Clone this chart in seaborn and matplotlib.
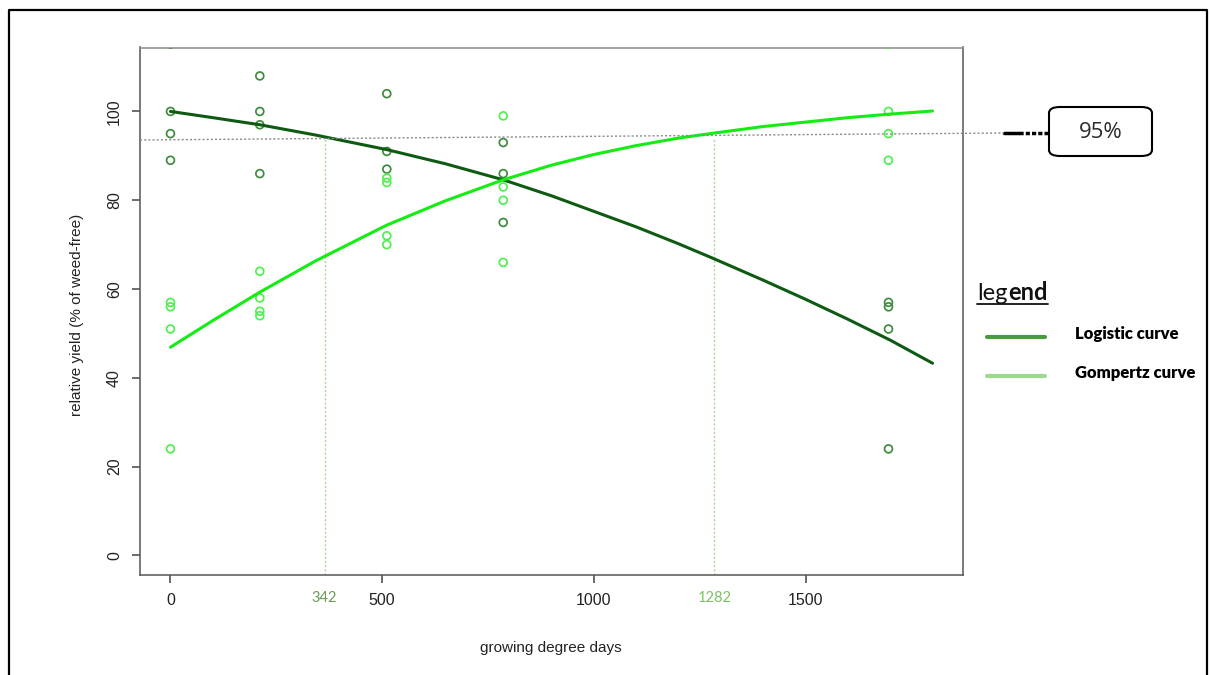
import matplotlib
matplotlib.use("Agg")
import matplotlib.pyplot as plt
import seaborn as sns
import pandas as pd
from matplotlib.lines import Line2D
from matplotlib.patches import FancyBboxPatch

# ---------------- data ----------------
logistic_obs_x = [0, 0, 0, 0, 211, 211, 211, 211, 511, 511, 511, 786, 786, 786, 1696, 1696, 1696, 1696]
logistic_obs_y = [100, 95, 89, 115.2, 108, 100, 97, 86, 104, 91, 87, 93, 86, 75, 57, 56, 51, 24]
gompertz_obs_x = [0, 0, 0, 0, 211, 211, 211, 211, 511, 511, 511, 511, 786, 786, 786, 786, 1696, 1696, 1696, 1696]
gompertz_obs_y = [57, 56, 51, 24, 64, 58, 55, 54, 85, 84, 72, 70, 99, 83, 80, 66, 100, 95, 89, 115.2]

curve_x = [0, 100, 211, 342, 511, 650, 786, 900, 1000, 1100, 1200, 1282, 1400, 1500, 1600, 1700, 1800]
logistic_fit = [100, 98.6, 97.0, 94.7, 91.4, 88.2, 84.6, 81.0, 77.5, 74.0, 70.2, 66.9, 62.0, 57.7, 53.2, 48.5, 43.3]
gompertz_fit = [46.9, 52.9, 59.3, 66.3, 74.4, 79.9, 84.6, 87.9, 90.3, 92.3, 94.0, 95.1, 96.6, 97.6, 98.6, 99.4, 100.1]

x_ticks = [0, 500, 1000, 1500]
y_ticks = [0, 20, 40, 60, 80, 100]
cutoff_x = [364, 1285]
cutoff_top = [94.4, 94.1]
cutoff_labels = ["342", "1282"]
cutoff_colors = ["#6b9a55", "#7cc064"]
legend_labels = ["Logistic curve", "Gompertz curve"]
threshold_label = "95%"

# ---------------- styling ----------------
sns.set_theme(style="white")
plt.rcParams["font.family"] = ["Liberation Sans", "DejaVu Sans"]

W, H = 1211, 675
fig = plt.figure(figsize=(W / 100, H / 100), dpi=100)

def fx(px):
    return px / W

def fy(py):
    return 1 - py / H

ax = fig.add_axes([fx(140), fy(575), fx(963) - fx(140), fy(47.5) - fy(575)])

obs_log = pd.DataFrame({"x": logistic_obs_x, "y": logistic_obs_y})
obs_gom = pd.DataFrame({"x": gompertz_obs_x, "y": gompertz_obs_y})
fits = pd.DataFrame({"x": curve_x, "logistic": logistic_fit, "gompertz": gompertz_fit})

dark_pt = "#3e8c3e"
light_pt = "#4ff04f"
dark_line = "#0f5a12"
light_line = "#14ec14"

# vertical cut-off lines
for cx, ct in zip(cutoff_x, cutoff_top):
    ax.plot([cx, cx], [-4.4, ct], color="#a9d89c", lw=1.0, ls=(0, (1.5, 1.5)), zorder=1)

sns.scatterplot(data=obs_log, x="x", y="y", ax=ax, s=32, color=dark_pt,
                facecolor="none", edgecolor=dark_pt, linewidth=1.25, zorder=3)
sns.scatterplot(data=obs_gom, x="x", y="y", ax=ax, s=32, color=light_pt,
                facecolor="none", edgecolor=light_pt, linewidth=1.25, zorder=3)
sns.lineplot(data=fits, x="x", y="logistic", ax=ax, color=dark_line, lw=2.2,
             sort=False, estimator=None, zorder=4)
sns.lineplot(data=fits, x="x", y="gompertz", ax=ax, color=light_line, lw=2.2,
             sort=False, estimator=None, zorder=4)

ax.set_xlim(-72, 1872)
ax.set_ylim(-4.4, 114.4)
ax.set_xticks(x_ticks)
ax.set_yticks(y_ticks)
ax.set_xticklabels([str(v) for v in x_ticks])
ax.set_yticklabels([str(v) for v in y_ticks], rotation=90, va="center")
ax.set_xlabel("")
ax.set_ylabel("")
ax.tick_params(axis="both", direction="out", length=6, width=1.1, color="#444444",
               labelsize=11.5, labelcolor="#222222", pad=7)
ax.tick_params(axis="x", bottom=True)
ax.tick_params(axis="y", left=True)
for side, sp in ax.spines.items():
    sp.set_visible(True)
    sp.set_linewidth(1.1)
    sp.set_color("#555555")
ax.spines["top"].set_color("#8c8c8c")
ax.grid(False)

# cut-off labels under axis
for cx, lab, col in zip(cutoff_x, cutoff_labels, cutoff_colors):
    ax.text(cx, -0.03, lab, transform=ax.get_xaxis_transform(), ha="center", va="top",
            fontsize=10.5, color=col, family=["Lato", "DejaVu Sans"])

# axis titles
fig.text(fx(551), fy(648), "growing degree days", ha="center", va="center",
         fontsize=11, color="#222222")
fig.text(fx(77), fy(315), "relative yield (% of weed-free)", ha="center", va="center",
         rotation=90, fontsize=11, color="#222222")

# horizontal 95 % threshold line (drawn across the figure)
fig.add_artist(Line2D([fx(140), fx(1004)], [fy(140), fy(133)], color="#8a8a8a",
                      lw=1.0, ls=(0, (1.5, 1.5)), zorder=5))
fig.add_artist(Line2D([fx(1004), fx(1019)], [fy(133), fy(133)], color="black", lw=2.5))
fig.add_artist(Line2D([fx(1019), fx(1048)], [fy(133), fy(133)], color="black", lw=2.5,
                      ls=(0, (1.2, 0.6))))

# 95 % box
box = FancyBboxPatch((fx(1049), fy(156)), fx(1152) - fx(1049), fy(107) - fy(156),
                     boxstyle="round,pad=0,rounding_size=0.009", transform=fig.transFigure,
                     facecolor="white", edgecolor="black", lw=1.5)
fig.add_artist(box)
fig.text(fx(1100.5), fy(132), threshold_label, ha="center", va="center", fontsize=16,
         color="#2b2b2b", family=["Open Sans", "DejaVu Sans"])

# legend (manual)
t_leg = fig.text(fx(977), fy(300), "leg", ha="left", va="baseline", fontsize=17,
                 color="#111111", family=["Lato", "DejaVu Sans"])
fig.canvas.draw()
bb = t_leg.get_window_extent(renderer=fig.canvas.get_renderer())
fig.text(bb.x1 / W + 0.0003, fy(300), "end", ha="left", va="baseline", fontsize=17,
         fontweight="bold", color="#111111", family=["Lato", "DejaVu Sans"])
fig.add_artist(Line2D([fx(977), fx(1048)], [fy(303.5), fy(303.5)], color="#111111", lw=1.3))

legend_colors = ["#4b9a3e", "#9ada8a"]
legend_y = [337, 376]
for lab, col, ly in zip(legend_labels, legend_colors, legend_y):
    fig.add_artist(Line2D([fx(987), fx(1045)], [fy(ly), fy(ly)], color=col, lw=3.0,
                          solid_capstyle="round"))
    fig.text(fx(1075), fy(ly - 3), lab, ha="left", va="center", fontsize=12,
             fontweight="heavy", color="black", family=["Lato", "DejaVu Sans"])

# outer frame (left, top, right)
fig.add_artist(Line2D([fx(9), fx(9), fx(1207), fx(1207)], [fy(675), fy(10), fy(10), fy(675)],
                      color="black", lw=1.6))

fig.savefig("out.png", dpi=100)
